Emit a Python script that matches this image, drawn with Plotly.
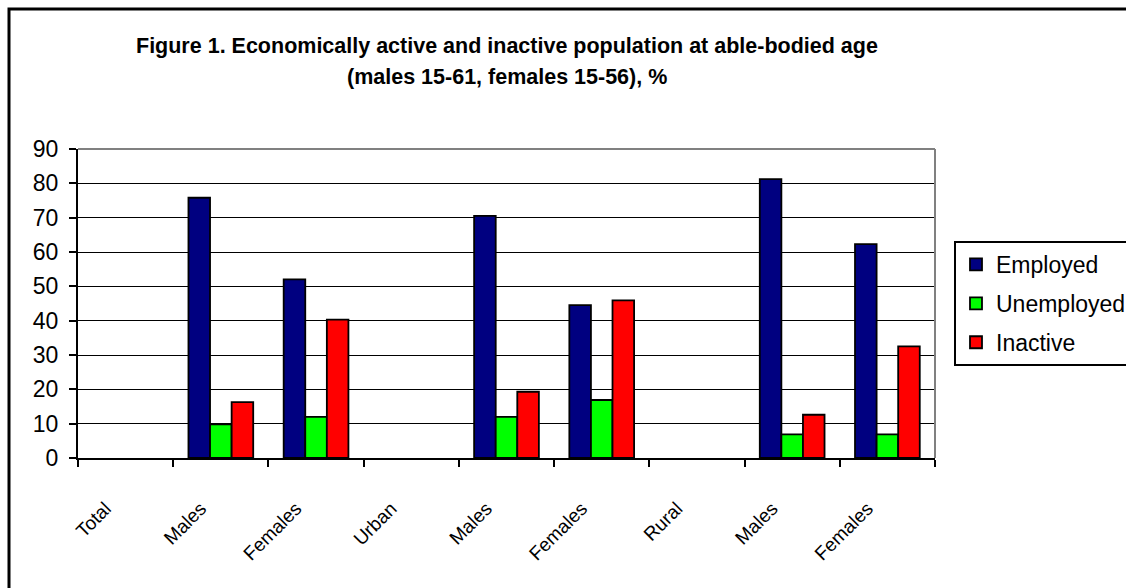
import plotly.graph_objects as go

# Category ids (unique) and the labels shown under each slot
category_ids = ["Total", "Total Males", "Total Females",
                "Urban", "Urban Males", "Urban Females",
                "Rural", "Rural Males", "Rural Females"]
category_labels = ["Total", "Males", "Females",
                   "Urban", "Males", "Females",
                   "Rural", "Males", "Females"]

# Shares of the able-bodied population, %
employed = [None, 75.8, 52.0, None, 70.5, 44.5, None, 81.2, 62.3]
unemployed = [None, 9.8, 12.0, None, 12.0, 16.9, None, 6.9, 6.9]
inactive = [None, 16.3, 40.3, None, 19.3, 45.9, None, 12.6, 32.5]

y_ticks = [0, 10, 20, 30, 40, 50, 60, 70, 80, 90]

W, H = 1126, 588
ML, MR, MT, MB = 78, 191, 149, 130
PW, PH = W - ML - MR, H - MT - MB


def px_x(p):
    return (p - ML) / PW


def px_y(p):
    return (H - MB - p) / PH


series = [
    ("Employed", employed, "#000080"),
    ("Unemployed", unemployed, "#00FF00"),
    ("Inactive", inactive, "#FF0000"),
]

fig = go.Figure()
for name, vals, color in series:
    fig.add_trace(go.Bar(
        x=category_ids, y=vals, name=name, legendgroup=name,
        marker=dict(color=color, line=dict(color="black", width=1.8)),
    ))

font = "Liberation Sans, Arial, sans-serif"

fig.update_layout(
    width=W, height=H,
    margin=dict(l=ML, r=MR, t=MT, b=MB, pad=0, autoexpand=False),
    paper_bgcolor="white", plot_bgcolor="white",
    barmode="group", bargap=0.32, bargroupgap=0,
    font=dict(family=font, color="black"),
    showlegend=True,
    legend=dict(
        x=px_x(954), y=px_y(241), xanchor="left", yanchor="top",
        bgcolor="white", bordercolor="black", borderwidth=2,
        font=dict(family=font, size=23, color="black"),
        tracegroupgap=6, itemwidth=30,
    ),
    xaxis=dict(
        type="category", range=[-0.5, 8.5],
        tickmode="array", tickvals=category_ids, ticktext=category_labels,
        tickson="boundaries", ticks="outside", ticklen=7, tickwidth=2,
        tickcolor="black", showline=True, linecolor="black", linewidth=2,
        showgrid=False, tickangle=-45,
        tickfont=dict(family=font, size=19, color="black"),
        ticklabelstandoff=30, ticklabelshift=-20,
    ),
    yaxis=dict(
        range=[0, 90], tickmode="array", tickvals=y_ticks,
        ticks="outside", ticklen=7, tickwidth=2, tickcolor="black",
        showline=True, linecolor="black", linewidth=2,
        showgrid=True, gridcolor="black", gridwidth=1.4, zeroline=False,
        tickfont=dict(family=font, size=23, color="black"),
        ticklabelstandoff=6,
    ),
    annotations=[
        dict(text="<b>Figure 1. Economically active and inactive population at able-bodied age</b>",
             xref="paper", yref="paper", x=0.5, y=px_y(46),
             xanchor="center", yanchor="middle", showarrow=False,
             font=dict(family=font, size=21.5, color="black")),
        dict(text="<b>(males 15-61, females 15-56), %</b>",
             xref="paper", yref="paper", x=0.5, y=px_y(77),
             xanchor="center", yanchor="middle", showarrow=False,
             font=dict(family=font, size=21.5, color="black")),
    ],
    shapes=[
        # grey frame along the top and right of the plot area
        dict(type="line", xref="paper", yref="paper", x0=0, x1=1, y0=1, y1=1,
             line=dict(color="#808080", width=2), layer="above"),
        dict(type="line", xref="paper", yref="paper", x0=1, x1=1, y0=0, y1=1,
             line=dict(color="#808080", width=2), layer="above"),
        # outer chart border
        dict(type="rect", xref="paper", yref="paper",
             x0=px_x(9), x1=px_x(W + 10), y0=px_y(H + 10), y1=px_y(9),
             line=dict(color="black", width=3), layer="above"),
    ],
)

fig.write_html("out.html")
